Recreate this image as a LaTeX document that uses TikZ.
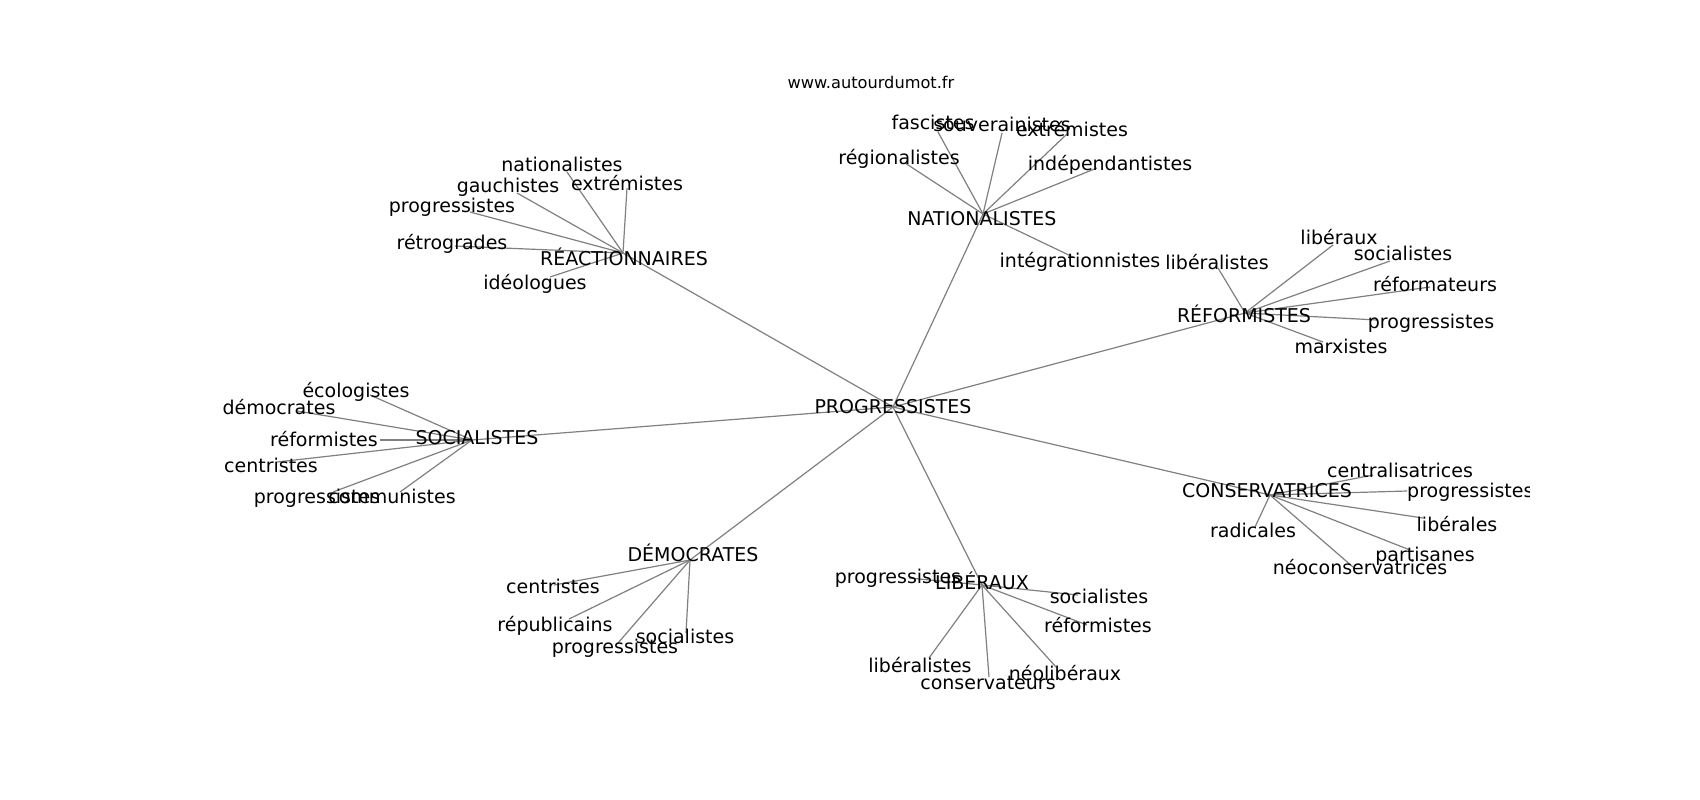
\documentclass[tikz,border=0pt]{standalone}
\usepackage{fontspec}
\setmainfont{DejaVu Sans}
\tikzset{
  lbl/.style={font=\fontsize{19}{22}\selectfont, inner sep=0pt, text height=0.8em, text depth=0.2em, yshift=-3.5pt},
  ttl/.style={font=\fontsize{16.2}{19}\selectfont, inner sep=0pt, text height=0.8em, text depth=0.2em, yshift=-2.5pt},
  edge/.style={draw=gray, line width=1.2pt}
}
\begin{document}
\begin{tikzpicture}[x=1pt,y=-1pt]
\useasboundingbox[fill=white] (0,0) rectangle (1700,800);
% hub coordinates (edge convergence)
\coordinate (P) at (893,407);
\coordinate (N) at (983,214);
\coordinate (R) at (623,253);
\coordinate (F) at (1245,313);
\coordinate (S) at (472,440);
\coordinate (C) at (1270,495);
\coordinate (D) at (690,560);
\coordinate (L) at (982,585);
% leaf edge ends
\coordinate (n1) at (938,132);
\coordinate (n2) at (1002,133);
\coordinate (n3) at (1068,133);
\coordinate (n4) at (905,163);
\coordinate (n5) at (1097,168);
\coordinate (n6) at (1075,258);
\coordinate (r1) at (567,172);
\coordinate (r2) at (517,193);
\coordinate (r3) at (627,188);
\coordinate (r4) at (470,212);
\coordinate (r5) at (455,246);
\coordinate (r6) at (550,277);
\coordinate (f1) at (1218,268);
\coordinate (f2) at (1333,245);
\coordinate (f3) at (1390,261);
\coordinate (f4) at (1430,287);
\coordinate (f5) at (1377,320);
\coordinate (f6) at (1323,342);
\coordinate (s1) at (370,395);
\coordinate (s2) at (297,411);
\coordinate (s3) at (380,440);
\coordinate (s4) at (277,462);
\coordinate (s5) at (333,492);
\coordinate (s6) at (400,492);
\coordinate (c1) at (1373,475);
\coordinate (c2) at (1407,491);
\coordinate (c3) at (1423,518);
\coordinate (c4) at (1255,527);
\coordinate (c5) at (1410,550);
\coordinate (c6) at (1353,567);
\coordinate (d1) at (554,585);
\coordinate (d2) at (569,619);
\coordinate (d3) at (618,643);
\coordinate (d4) at (686,633);
\coordinate (l1) at (909,578);
\coordinate (l2) at (1078,595);
\coordinate (l3) at (1087,625);
\coordinate (l4) at (929,658);
\coordinate (l5) at (989,677);
\coordinate (l6) at (1056,667);
% edges
\foreach \h in {N,R,F,S,C,D,L} \draw[edge] (P) -- (\h);
\foreach \e in {n1,n2,n3,n4,n5,n6} \draw[edge] (N) -- (\e);
\foreach \e in {r1,r2,r3,r4,r5,r6} \draw[edge] (R) -- (\e);
\foreach \e in {f1,f2,f3,f4,f5,f6} \draw[edge] (F) -- (\e);
\foreach \e in {s1,s2,s3,s4,s5,s6} \draw[edge] (S) -- (\e);
\foreach \e in {c1,c2,c3,c4,c5,c6} \draw[edge] (C) -- (\e);
\foreach \e in {d1,d2,d3,d4} \draw[edge] (D) -- (\e);
\foreach \e in {l1,l2,l3,l4,l5,l6} \draw[edge] (L) -- (\e);
% title
\node[ttl] (title) at (871,83) {www.autourdumot.fr};
% hub labels
\node[lbl] (Pt) at (893,407) {PROGRESSISTES};
\node[lbl] (Nt) at (982,219) {NATIONALISTES};
\node[lbl] (Rt) at (624,259) {RÉACTIONNAIRES};
\node[lbl] (Ft) at (1244,316) {RÉFORMISTES};
\node[lbl] (St) at (477,438) {SOCIALISTES};
\node[lbl] (Ct) at (1267,491) {CONSERVATRICES};
\node[lbl] (Dt) at (693,555) {DÉMOCRATES};
\node[lbl] (Lt) at (982,583) {LIBÉRAUX};
% nationalistes leaves
\node[lbl] (n1t) at (933,123) {fascistes};
\node[lbl] (n2t) at (1002,125) {souverainistes};
\node[lbl] (n3t) at (1072,130) {extrémistes};
\node[lbl] (n4t) at (899,158) {régionalistes};
\node[lbl] (n5t) at (1110,164) {indépendantistes};
\node[lbl] (n6t) at (1080,261) {intégrationnistes};
% reactionnaires leaves
\node[lbl] (r1t) at (562,165) {nationalistes};
\node[lbl] (r2t) at (508,186) {gauchistes};
\node[lbl] (r3t) at (627,184) {extrémistes};
\node[lbl] (r4t) at (452,206) {progressistes};
\node[lbl] (r5t) at (452,243) {rétrogrades};
\node[lbl] (r6t) at (535,283) {idéologues};
% reformistes leaves
\node[lbl] (f1t) at (1217,263) {libéralistes};
\node[lbl] (f2t) at (1339,238) {libéraux};
\node[lbl] (f3t) at (1403,254) {socialistes};
\node[lbl] (f4t) at (1435,285) {réformateurs};
\node[lbl] (f5t) at (1431,322) {progressistes};
\node[lbl] (f6t) at (1341,347) {marxistes};
% socialistes leaves
\node[lbl] (s1t) at (356,391) {écologistes};
\node[lbl] (s2t) at (279,408) {démocrates};
\node[lbl] (s3t) at (324,440) {réformistes};
\node[lbl] (s4t) at (271,466) {centristes};
\node[lbl] (s5t) at (317,497) {progressistes};
\node[lbl] (s6t) at (392,497) {communistes};
% conservatrices leaves
\node[lbl] (c1t) at (1400,471) {centralisatrices};
\begin{scope}
\clip (0,0) rectangle (1529,800);
\node[lbl, anchor=west] (c2t) at (1407,491) {progressistes};
\end{scope}
\node[lbl] (c3t) at (1457,525) {libérales};
\node[lbl] (c4t) at (1253,531) {radicales};
\node[lbl] (c5t) at (1425,555) {partisanes};
\node[lbl] (c6t) at (1360,568) {néoconservatrices};
% democrates leaves
\node[lbl] (d1t) at (553,587) {centristes};
\node[lbl] (d2t) at (555,625) {républicains};
\node[lbl] (d3t) at (615,647) {progressistes};
\node[lbl] (d4t) at (685,637) {socialistes};
% liberaux leaves
\node[lbl] (l1t) at (898,577) {progressistes};
\node[lbl] (l2t) at (1099,597) {socialistes};
\node[lbl] (l3t) at (1098,626) {réformistes};
\node[lbl] (l4t) at (920,666) {libéralistes};
\node[lbl] (l5t) at (988,683) {conservateurs};
\node[lbl] (l6t) at (1065,674) {néolibéraux};
\end{tikzpicture}
\end{document}
